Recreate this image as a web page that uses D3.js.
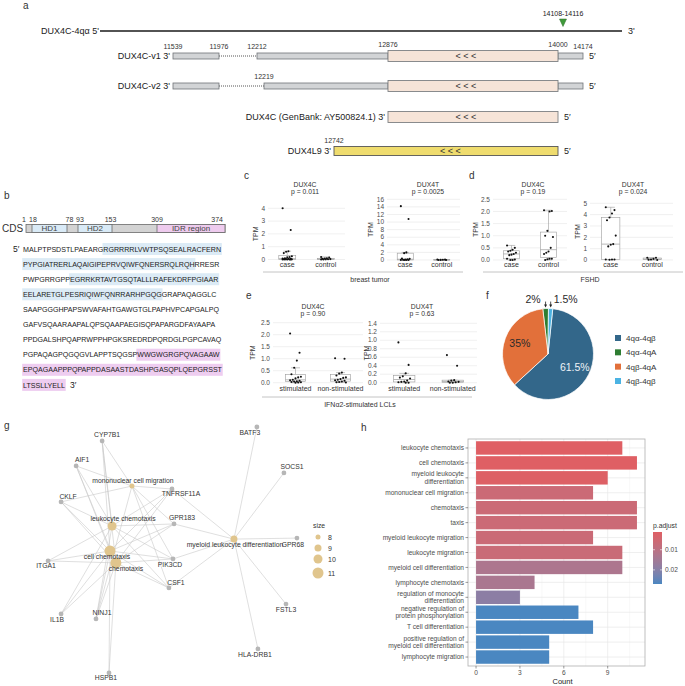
<!DOCTYPE html>
<html><head><meta charset="utf-8">
<script src="https://cdn.jsdelivr.net/npm/d3@7/dist/d3.min.js"></script>
<style>
html,body{margin:0;padding:0;background:#fff;}
svg text{font-family:"Liberation Sans",Arial,Helvetica,sans-serif;}
</style></head><body>
<svg id="fig" width="685" height="686" viewBox="0 0 685 686"></svg>
<script>
// ================= DATA =================
// ---- panel a : transcript structures (genomic coordinates)
const geneBreaks = [11539, 11976, 12212, 12219, 12742, 12876, 14000, 14112, 14174];
const transcripts = ["DUX4C-v1", "DUX4C-v2", "DUX4C (GenBank: AY500824.1)", "DUX4L9"];
const utrExons = [
  [[11539, 11976], [12212, 12876], [14000, 14174]],
  [[11539, 11976], [12219, 12876], [14000, 14174]],
  [], []
];
const introns = [[11976, 12212], [11976, 12219], null, null];
const cdsRegions = [[12876, 14000], [12876, 14000], [12876, 14000], [12742, 14000]];
const cdsTypes = ["DUX4C", "DUX4C", "DUX4C", "DUX4L9"];
const posLabels = [[11539, 11976, 12212, 12876, 14000, 14174], [12219], [], [12742]];
const markerSite = [14108, 14116];
const locusName = "DUX4C-4qα";

// ---- panel b : protein
const cdsBreaks = [1, 18, 78, 93, 153, 309, 374];
const domainNames = ["HD1", "HD2", "IDR region"];
const domainStarts = [18, 93, 309];
const domainEnds = [78, 153, 374];
const domainTypes = ["hd", "hd", "idr"];
const seqLines = [
  "MALPTPSDSTLPAEARGRGRRRRLVWTPSQSEALRACFERN",
  "PYPGIATRERLAQAIGIPEPRVQIWFQNERSRQLRQHRRESR",
  "PWPGRRGPPEGRRKRTAVTGSQTALLLRAFEKDRFPGIAAR",
  "EELARETGLPESRIQIWFQNRRARHPGQGGRAPAQAGGLC",
  "SAAPGGGHPAPSWVAFAHTGAWGTGLPAPHVPCAPGALPQ",
  "GAFVSQAARAAPALQPSQAAPAEGISQPAPARGDFAYAAPA",
  "PPDGALSHPQAPRWPPHPGKSREDRDPQRDGLPGPCAVAQ",
  "PGPAQAGPQGQGVLAPPTSQGSPWWGWGRGPQVAGAAW",
  "EPQAGAAPPPQPAPPDASAASTDASHPGASQPLQEPGRSST",
  "LTSSLLYELL"
];

// ---- panels c, d, e : TPM box plots
const boxTitles = ["DUX4C", "DUX4T", "DUX4C", "DUX4T", "DUX4C", "DUX4T"];
const boxPvalues = ["p = 0.011", "p = 0.0025", "p = 0.19", "p = 0.024", "p = 0.90", "p = 0.63"];
const boxGroups = [["case", "control"], ["case", "control"], ["case", "control"], ["case", "control"],
                   ["stimulated", "non-stimulated"], ["stimulated", "non-stimulated"]];
const brcaDux4cCase = [4.0, 2.3, 0.65, 0.6, 0.5, 0.25, 0.2, 0.18, 0.1, 0.08, 0.05, 0.05, 0.03, 0.02, 0.01, 0, 0, 0, 0, 0];
const brcaDux4cCtrl = [0.2, 0.15, 0.1, 0.08, 0.05, 0.03, 0.02, 0.01, 0, 0];
const brcaDux4tCase = [14.2, 10.8, 2.0, 1.8, 0.4, 0.3, 0.2, 0.1, 0.05, 0.02, 0, 0, 0];
const brcaDux4tCtrl = [0.15, 0.1, 0.05, 0.02, 0, 0];
const fshdDux4cCase = [0.6, 0.5, 0.42, 0.38, 0.35, 0.3, 0.25, 0.22, 0.2, 0.05, 0.02, 0, 0];
const fshdDux4cCtrl = [2.05, 2.02, 2.0, 1.2, 1.0, 0.95, 0.5, 0.35, 0.3, 0.25, 0.05, 0.05, 0.03, 0];
const fshdDux4tCase = [4.65, 4.4, 4.1, 3.75, 3.5, 2.15, 1.4, 1.35, 1.2, 0.05, 0.05, 0.05, 0.02];
const fshdDux4tCtrl = [0.2, 0.2, 0.1, 0.05, 0.03, 0];
const lclDux4cStim = [2.05, 1.25, 0.92, 0.62, 0.35, 0.25, 0.22, 0.18, 0.12, 0.1, 0.08, 0.06, 0.05, 0.03, 0.02, 0.01, 0];
const lclDux4cNon = [1.02, 1.0, 0.42, 0.38, 0.3, 0.22, 0.2, 0.15, 0.12, 0.1, 0.08, 0.05, 0.03, 0.02, 0.01];
const lclDux4tStim = [0.95, 0.42, 0.22, 0.15, 0.12, 0.1, 0.05, 0.03, 0.02, 0.01, 0, 0];
const lclDux4tNon = [0.65, 0.4, 0.06, 0.05, 0.03, 0.02, 0.01, 0, 0];
const boxValues = [[brcaDux4cCase, brcaDux4cCtrl], [brcaDux4tCase, brcaDux4tCtrl],
                   [fshdDux4cCase, fshdDux4cCtrl], [fshdDux4tCase, fshdDux4tCtrl],
                   [lclDux4cStim, lclDux4cNon], [lclDux4tStim, lclDux4tNon]];
const boxTicks = [[0, 1, 2, 3, 4], [0, 2, 4, 6, 8, 10, 12, 14, 16], [0, 0.5, 1, 1.5, 2, 2.5],
                  [0, 1, 2, 3, 4, 5], [0, 0.5, 1, 1.5, 2, 2.5], [0, 0.2, 0.4, 0.6, 0.8, 1, 1.2, 1.4]];
const boxTickFormats = ["d", "d", ".1f", "d", ".1f", ".1f"];
const cohortLabels = ["breast tumor", "FSHD", "IFNα2-stimulated LCLs"];

// ---- panel f : pie
const pieLabels = ["4qα-4qβ", "4qα-4qA", "4qβ-4qA", "4qβ-4qβ"];
const pieValues = [61.5, 2, 35, 1.5];

// ---- panel g : gene-concept network
const termNames = ["leukocyte chemotaxis", "cell chemotaxis", "chemotaxis", "mononuclear cell migration", "myeloid leukocyte differentiation"];
const termSizes = [10, 11, 11, 8, 9];
const geneNames = ["CYP7B1", "AIF1", "CKLF", "TNFRSF11A", "GPR183", "ITGA1", "PIK3CD", "CSF1", "IL1B", "NINJ1", "HSPB1", "BATF3", "SOCS1", "GPR68", "FSTL3", "HLA-DRB1"];
const termGenes = [
  ["CYP7B1", "AIF1", "CKLF", "TNFRSF11A", "GPR183", "ITGA1", "PIK3CD", "CSF1", "IL1B", "NINJ1"],
  ["CYP7B1", "AIF1", "CKLF", "TNFRSF11A", "GPR183", "ITGA1", "PIK3CD", "CSF1", "IL1B", "NINJ1", "HSPB1"],
  ["CYP7B1", "AIF1", "CKLF", "TNFRSF11A", "GPR183", "ITGA1", "PIK3CD", "CSF1", "IL1B", "NINJ1", "HSPB1"],
  ["CYP7B1", "AIF1", "CKLF", "TNFRSF11A", "GPR183", "PIK3CD", "CSF1", "NINJ1"],
  ["TNFRSF11A", "GPR183", "PIK3CD", "CSF1", "BATF3", "SOCS1", "GPR68", "FSTL3", "HLA-DRB1"]
];
// layout coordinates (graph layout space, 0-100)
const termLayoutX = [26.3, 25.5, 27.8, 34.1, 74.1];
const termLayoutY = [39.9, 50.0, 54.8, 23.8, 45.2];
const geneLayoutX = [22.4, 12.2, 6.3, 49.8, 50.6, 1.2, 50.2, 48.6, 6.3, 20.0, 25.1, 83.1, 93.7, 98.8, 94.5, 83.5];
const geneLayoutY = [5.6, 15.7, 30.2, 25.0, 39.1, 54.0, 53.2, 64.9, 75.4, 77.4, 99.2, 0, 18.5, 44.8, 71.4, 89.5];
const sizeLegend = [8, 9, 10, 11];

// ---- panel h : GO enrichment bar plot
const goTerms = ["leukocyte chemotaxis", "cell chemotaxis", "myeloid leukocyte\ndifferentiation", "mononuclear cell migration",
  "chemotaxis", "taxis", "myeloid leukocyte migration", "leukocyte migration", "myeloid cell differentiation",
  "lymphocyte chemotaxis", "regulation of monocyte\ndifferentiation", "negative regulation of\nprotein phosphorylation",
  "T cell differentiation", "positive regulation of\nmyeloid cell differentiation", "lymphocyte migration"];
const goCounts = [10, 11, 9, 8, 11, 11, 8, 10, 10, 4, 3, 7, 8, 5, 5];
const goPadj = [0.0012, 0.0012, 0.0016, 0.0062, 0.0062, 0.0062, 0.0064, 0.0066, 0.0130, 0.0135, 0.0190, 0.0270, 0.0270, 0.0270, 0.0270];
const countTicks = [0, 3, 6, 9];
const padjTicks = [0.01, 0.02];

// ================= DRAWING =================
const svg = d3.select("#fig");
svg.append("rect").attr("width", 685).attr("height", 686).attr("fill", "#fff");

function txt(g, x, y, s, size, opts = {}) {
  const t = g.append("text").attr("x", x).attr("y", y).text(s)
    .attr("font-size", size).attr("fill", opts.fill || "#222")
    .attr("text-anchor", opts.anchor || "start");
  if (opts.weight) t.attr("font-weight", opts.weight);
  return t;
}

// panel letters
const letters = [["a", 23, 9], ["b", 4, 199], ["c", 244, 179], ["d", 469, 179], ["e", 246, 299], ["f", 486, 299], ["g", 4, 429], ["h", 361, 431]];
letters.forEach(([l, x, y]) => txt(svg, x, y, l, 10, { fill: "#333" }));

// ---------- panel a ----------
(function () {
  const g = svg.append("g");
  const gx = d3.scaleLinear().domain(geneBreaks).range([173, 219, 257, 264, 334, 388, 558, 563, 583]);
  const rowY = d3.scaleOrdinal().domain(transcripts).range([56, 86, 117, 151]);
  const fs = 9;
  const locusY = 31;
  g.append("line").attr("x1", 100).attr("x2", 622).attr("y1", locusY).attr("y2", locusY)
    .attr("stroke", "#1a1a1a").attr("stroke-width", 1.6);
  txt(g, 99, locusY + 3, locusName + "  5'", fs, { anchor: "end" });
  txt(g, 628, locusY + 3, "3'", fs);
  const mx = gx((markerSite[0] + markerSite[1]) / 2);
  g.append("path").attr("d", `M${mx - 3.5},${19} L${mx + 3.5},${19} L${mx},${26.5} Z`)
    .attr("fill", "#3f9a3a").attr("stroke", "#2a6e27").attr("stroke-width", 0.5);
  txt(g, mx, 15.5, markerSite[0] + "-" + markerSite[1], 7, { anchor: "middle" });

  const hGray = 3, hCds = 5.5, hL9 = 4.5;
  transcripts.forEach((name, i) => {
    const y = rowY(name);
    if (introns[i]) {
      g.append("line").attr("x1", gx(introns[i][0])).attr("x2", gx(introns[i][1]))
        .attr("y1", y).attr("y2", y).attr("stroke", "#444").attr("stroke-width", 0.9).attr("stroke-dasharray", "1,1");
    }
    utrExons[i].forEach(e => {
      g.append("rect").attr("x", gx(e[0])).attr("y", y - hGray).attr("width", gx(e[1]) - gx(e[0])).attr("height", 2 * hGray)
        .attr("fill", "#d2d4d6").attr("stroke", "#6f7378").attr("stroke-width", 0.8);
    });
    const c = cdsRegions[i];
    const hh = cdsTypes[i] === "DUX4L9" ? hL9 : hCds;
    g.append("rect").attr("x", gx(c[0])).attr("y", y - hh).attr("width", gx(c[1]) - gx(c[0])).attr("height", 2 * hh)
      .attr("fill", cdsTypes[i] === "DUX4L9" ? "#efdc6e" : "#f6e4d8")
      .attr("stroke", cdsTypes[i] === "DUX4L9" ? "#555" : "#7d8084").attr("stroke-width", 0.9);
    const arrowX = cdsTypes[i] === "DUX4L9" ? gx(c[0]) + (gx(c[1]) - gx(c[0])) * 0.52 : (gx(c[0]) + gx(c[1])) / 2 - 7;
    txt(g, arrowX, y + 3.2, "< < <", 9, { anchor: "middle", fill: "#333" });
    const allStarts = [c[0]].concat(utrExons[i].map(e => e[0]));
    const allEnds = [c[1]].concat(utrExons[i].map(e => e[1]));
    const s = d3.min(allStarts), e = d3.max(allEnds);
    txt(g, gx(s) - 3, y + 3, name + " 3'", fs, { anchor: "end" });
    txt(g, gx(e) + 6, y + 3, "5′", fs);
    posLabels[i].forEach(p => {
      const inCds = p >= c[0] && p <= c[1];
      const top = inCds ? y - hh : y - hGray;
      txt(g, gx(p), top - 3.6, String(p), 7, { anchor: "middle", fill: "#333" });
    });
  });
})();

// ---------- panel b ----------
(function () {
  const g = svg.append("g");
  const bx = d3.scaleLinear().domain(cdsBreaks).range([26, 32, 67, 78, 112, 157, 225]);
  const y0 = 224.5, h = 8;
  g.append("rect").attr("x", bx(1)).attr("y", y0).attr("width", bx(374) - bx(1)).attr("height", h)
    .attr("fill", "#d3d3d3").attr("stroke", "#6a6a6a").attr("stroke-width", 0.8);
  domainNames.forEach((n, i) => {
    g.append("rect").attr("x", bx(domainStarts[i])).attr("y", y0).attr("width", bx(domainEnds[i]) - bx(domainStarts[i])).attr("height", h)
      .attr("fill", domainTypes[i] === "hd" ? "#d9eaf6" : "#eecbee").attr("stroke", "#6a6a6a").attr("stroke-width", 0.8);
    txt(g, (bx(domainStarts[i]) + bx(domainEnds[i])) / 2, y0 + 6.8, n, 8, { anchor: "middle", fill: "#444" });
  });
  const labelShift = [-2, 1, 2.5, 2, -1.5, 0, 0];
  cdsBreaks.forEach((b, i) => {
    const last = i === cdsBreaks.length - 1;
    txt(g, last ? bx(b) - 2 : bx(b) + labelShift[i], y0 - 3, String(b), 7, { anchor: last ? "end" : "middle", fill: "#333" });
  });
  txt(g, 2, y0 + 7.5, "CDS", 10, { fill: "#333" });

  // sequence with highlighted domains
  const fs = 7.1, x0 = 23, rowStep = 15.1, firstY = 249;
  const seqY = d3.scaleLinear().domain([0, 1]).range([firstY, firstY + rowStep]);
  let resStart = 1;
  const hlG = g.append("g"), txG = g.append("g");
  seqLines.forEach((line, li) => {
    const yc = seqY(li);
    const runs = [];
    for (let k = 0; k < line.length; k++) {
      const r = resStart + k;
      let t = "";
      domainStarts.forEach((s, di) => { if (r >= s && r <= domainEnds[di]) t = domainTypes[di]; });
      if (runs.length && runs[runs.length - 1].t === t) runs[runs.length - 1].s += line[k];
      else runs.push({ t, s: line[k] });
    }
    let x = x0;
    runs.forEach(run => {
      const t = txt(txG, x, yc + 2.6, run.s, fs, { fill: "#222" });
      const w = t.node().getComputedTextLength();
      if (run.t) {
        hlG.append("rect").attr("x", x - 0.8).attr("y", yc - 6).attr("width", w + 1.6).attr("height", 12)
          .attr("fill", run.t === "hd" ? "#dcebf6" : "#eecdf0");
      }
      x += w;
    });
    if (li === 0) txt(g, 13, yc + 3, "5′", 8.5, { fill: "#222" });
    if (li === seqLines.length - 1) txt(g, x + 5, yc + 3, "3′", 8.5, { fill: "#222" });
    resStart += line.length;
  });
})();

// ---------- panels c, d, e ----------
const boxLayout = [
  { x0: 268, x1: 345, y0: 259.5, yt: 208.3, tx: 305, tpm: 258, ty: 186.5, cy: 267 },
  { x0: 387, x1: 460, y0: 260, yt: 199.3, tx: 428, tpm: 373, ty: 186.5, cy: 267 },
  { x0: 493, x1: 567, y0: 260, yt: 199.3, tx: 533, tpm: 478, ty: 186.5, cy: 267 },
  { x0: 590, x1: 673, y0: 260, yt: 203.3, tx: 633, tpm: 580, ty: 186.5, cy: 267 },
  { x0: 273, x1: 363, y0: 382.7, yt: 322.7, tx: 313, tpm: 255, ty: 309, cy: 391 },
  { x0: 380, x1: 477, y0: 382.7, yt: 323.3, tx: 422, tpm: 369, ty: 309, cy: 391 }
];
boxTitles.forEach((title, i) => {
  const L = boxLayout[i];
  const g = svg.append("g");
  const ticks = boxTicks[i];
  const y = d3.scaleLinear().domain([0, d3.max(ticks)]).range([L.y0, L.yt]);
  const x = d3.scalePoint().domain(boxGroups[i]).range([L.x0, L.x1]).padding(0.5);
  const step = x.step();
  const fmt = d3.format(boxTickFormats[i]);
  ticks.forEach(t => {
    g.append("line").attr("x1", L.x0).attr("x2", L.x1).attr("y1", y(t)).attr("y2", y(t))
      .attr("stroke", "#e6e6e6").attr("stroke-width", 0.6);
    txt(g, L.x0 - 3, y(t) + 2.2, fmt(t), 6.5, { anchor: "end", fill: "#4d4d4d" });
  });
  txt(g, L.tx, L.ty, title, 6.8, { anchor: "middle", fill: "#333" });
  txt(g, L.tx, L.ty + 7, boxPvalues[i], 6.8, { anchor: "middle", fill: "#333" });
  g.append("text").attr("transform", `translate(${L.tpm},${(L.y0 + L.yt) / 2}) rotate(-90)`)
    .attr("text-anchor", "middle").attr("font-size", 7).attr("fill", "#333").text("TPM");
  boxGroups[i].forEach((grp, k) => {
    const vals = boxValues[i][k].slice().sort(d3.ascending);
    const q1 = d3.quantile(vals, 0.25), med = d3.quantile(vals, 0.5), q3 = d3.quantile(vals, 0.75);
    const iqr = q3 - q1;
    const lo = d3.min(vals.filter(v => v >= q1 - 1.5 * iqr));
    const hi = d3.max(vals.filter(v => v <= q3 + 1.5 * iqr));
    const cx = x(grp), bw = step * 0.22, cw = step * 0.1;
    const st = "#9c9c9c";
    g.append("line").attr("x1", cx).attr("x2", cx).attr("y1", y(q3)).attr("y2", y(hi)).attr("stroke", st).attr("stroke-width", 0.6);
    g.append("line").attr("x1", cx).attr("x2", cx).attr("y1", y(q1)).attr("y2", y(lo)).attr("stroke", st).attr("stroke-width", 0.6);
    g.append("line").attr("x1", cx - cw).attr("x2", cx + cw).attr("y1", y(hi)).attr("y2", y(hi)).attr("stroke", st).attr("stroke-width", 0.6);
    g.append("line").attr("x1", cx - cw).attr("x2", cx + cw).attr("y1", y(lo)).attr("y2", y(lo)).attr("stroke", st).attr("stroke-width", 0.6);
    g.append("rect").attr("x", cx - bw).attr("y", y(q3)).attr("width", 2 * bw).attr("height", Math.max(0.5, y(q1) - y(q3)))
      .attr("fill", "#fff").attr("stroke", st).attr("stroke-width", 0.6);
    g.append("line").attr("x1", cx - bw).attr("x2", cx + bw).attr("y1", y(med)).attr("y2", y(med)).attr("stroke", st).attr("stroke-width", 0.7);
    // deterministic jitter pattern
    boxValues[i][k].forEach((v, j) => {
      const off = (((j * 7) % 9) - 4) / 4 * step * 0.12;
      g.append("circle").attr("cx", cx + off).attr("cy", y(v)).attr("r", 1.05).attr("fill", "#111");
    });
    txt(g, cx, L.cy, grp, 7, { anchor: "middle", fill: "#333" });
  });
});
const cohortLayout = [{ x1: 263, x2: 463, y: 272, tx: 370 }, { x1: 483, x2: 683, y: 272, tx: 590 }, { x1: 262, x2: 472, y: 397, tx: 360 }];
cohortLabels.forEach((c, i) => {
  const L = cohortLayout[i];
  svg.append("line").attr("x1", L.x1).attr("x2", L.x2).attr("y1", L.y).attr("y2", L.y).attr("stroke", "#b5b5b5").attr("stroke-width", 0.8);
  txt(svg, L.tx, L.y + 9.5, c, 7, { anchor: "middle", fill: "#333" });
});

// ---------- panel f ----------
(function () {
  const g = svg.append("g");
  const cx = 548, cy = 354, r = 45.5;
  const color = d3.scaleOrdinal().domain(pieLabels).range(["#33678a", "#2e7d32", "#e2703a", "#4bb3e3"]);
  const a0 = 6 * Math.PI / 180;
  const pie = d3.pie().value(d => d.v).startAngle(a0).endAngle(a0 + 2 * Math.PI);
  const data = pieLabels.map((l, i) => ({ l, v: pieValues[i] }));
  const arcs = pie(data);
  const arc = d3.arc().innerRadius(0).outerRadius(r);
  const gp = g.append("g").attr("transform", `translate(${cx},${cy})`);
  gp.selectAll("path").data(arcs).join("path").attr("d", arc).attr("fill", d => color(d.data.l))
    .attr("stroke", "#fff").attr("stroke-width", 0.7);
  const lab = d3.arc().innerRadius(r * 0.66).outerRadius(r * 0.66);
  const fmt = v => v + "%";
  arcs.forEach(a => {
    if (a.data.v > 10) {
      const [lx, ly] = lab.centroid(a);
      txt(gp, lx, ly + 3.8, fmt(a.data.v), 10.5, { anchor: "middle", fill: a.data.v > 50 ? "#eef3f7" : "#2a2a2a" });
    }
  });
  const small = arcs.filter(a => a.data.v < 10);
  small.forEach((a, k) => {
    const mid = (a.startAngle + a.endAngle) / 2;
    const ex = Math.sin(mid) * (r + 1), ey = -Math.cos(mid) * (r + 1);
    const left = k === 0;
    gp.append("line").attr("x1", ex).attr("y1", ey - 6).attr("x2", ex).attr("y2", ey - 2).attr("stroke", "#222").attr("stroke-width", 0.8);
    gp.append("path").attr("d", `M${ex - 1.5},${ey - 3} L${ex + 1.5},${ey - 3} L${ex},${ey} Z`).attr("fill", "#222");
    txt(gp, left ? ex - 5 : ex + 3, -r - 5.5, fmt(a.data.v), 10.5, { anchor: left ? "end" : "start", fill: "#2a2a2a" });
  });
  const ly = d3.scalePoint().domain(pieLabels).range([338, 381]);
  pieLabels.forEach(l => {
    g.append("rect").attr("x", 615).attr("y", ly(l) - 3).attr("width", 6).attr("height", 6).attr("fill", color(l));
    txt(g, 626, ly(l) + 3, l, 8, { fill: "#333" });
  });
})();

// ---------- panel g ----------
(function () {
  const g = svg.append("g");
  const nx = d3.scaleLinear().domain([0, 100]).range([45, 300]);
  const ny = d3.scaleLinear().domain([0, 100]).range([427, 675]);
  const rS = d3.scaleLinear().domain([8, 11]).range([2.5, 5.5]);
  const gpos = {};
  geneNames.forEach((n, i) => gpos[n] = [nx(geneLayoutX[i]), ny(geneLayoutY[i])]);
  const tpos = termNames.map((n, i) => [nx(termLayoutX[i]), ny(termLayoutY[i])]);
  const eg = g.append("g");
  termNames.forEach((t, i) => {
    termGenes[i].forEach(gn => {
      eg.append("line").attr("x1", tpos[i][0]).attr("y1", tpos[i][1]).attr("x2", gpos[gn][0]).attr("y2", gpos[gn][1])
        .attr("stroke", "#c9c9c9").attr("stroke-width", 0.6);
    });
  });
  geneNames.forEach(n => g.append("circle").attr("cx", gpos[n][0]).attr("cy", gpos[n][1]).attr("r", 2.4).attr("fill", "#b6b6b6"));
  termNames.forEach((t, i) => g.append("circle").attr("cx", tpos[i][0]).attr("cy", tpos[i][1]).attr("r", rS(termSizes[i])).attr("fill", "#e0c58d"));
  const nudge = {
    "CYP7B1": [5, -6], "AIF1": [6, -6], "CKLF": [7, -5], "mononuclear cell migration": [1, -5], "TNFRSF11A": [9, 5],
    "leukocyte chemotaxis": [11, -7], "GPR183": [8, -6], "myeloid leukocyte differentiation": [1, 6], "GPR68": [-4, 6],
    "cell chemotaxis": [-3, 6], "chemotaxis": [10, 6], "ITGA1": [-2, 5], "PIK3CD": [-3, 6], "CSF1": [7, -5],
    "IL1B": [-4, 6], "NINJ1": [6, -6], "HSPB1": [-3, 5], "BATF3": [-7, 6], "SOCS1": [8, -6], "FSTL3": [0, 6], "HLA-DRB1": [-3, 6]
  };
  geneNames.forEach(n => txt(g, gpos[n][0] + nudge[n][0], gpos[n][1] + nudge[n][1] + 2.4, n, 6.8, { anchor: "middle", fill: "#333" }));
  termNames.forEach((n, i) => txt(g, tpos[i][0] + nudge[n][0], tpos[i][1] + nudge[n][1] + 2.4, n, 6.8, { anchor: "middle", fill: "#333" }));
  txt(g, 313, 528, "size", 6.8, { fill: "#333" });
  const ly = d3.scaleOrdinal().domain(sizeLegend).range([537, 548, 559, 573]);
  sizeLegend.forEach(s => {
    g.append("circle").attr("cx", 318).attr("cy", ly(s)).attr("r", rS(s)).attr("fill", "#e0c58d");
    txt(g, 328, ly(s) + 2.5, String(s), 7, { fill: "#333" });
  });
})();

// ---------- panel h ----------
(function () {
  const g = svg.append("g");
  const px0 = 468, px1 = 645, py0 = 439, py1 = 666;
  const x = d3.scaleLinear().domain([-0.55, 11.55]).range([px0, px1]);
  const y = d3.scalePoint().domain(goTerms).range([py0, py1]).padding(0.6);
  const step = y.step();
  const pExt = d3.extent(goPadj);
  const col = d3.scaleLinear().domain(pExt).range(["#df5f64", "#4a87c1"]).interpolate(d3.interpolateLab);
  [1.5, 4.5, 7.5, 10.5].forEach(v => g.append("line").attr("x1", x(v)).attr("x2", x(v)).attr("y1", py0).attr("y2", py1).attr("stroke", "#f3f3f3").attr("stroke-width", 0.5));
  countTicks.forEach(v => g.append("line").attr("x1", x(v)).attr("x2", x(v)).attr("y1", py0).attr("y2", py1).attr("stroke", "#e8e8e8").attr("stroke-width", 0.7));
  goTerms.forEach(t => g.append("line").attr("x1", px0).attr("x2", px1).attr("y1", y(t)).attr("y2", y(t)).attr("stroke", "#e8e8e8").attr("stroke-width", 0.7));
  goTerms.forEach((t, i) => {
    g.append("rect").attr("x", x(0)).attr("y", y(t) - step * 0.45).attr("width", x(goCounts[i]) - x(0)).attr("height", step * 0.9)
      .attr("fill", col(goPadj[i]));
  });
  g.append("rect").attr("x", px0).attr("y", py0).attr("width", px1 - px0).attr("height", py1 - py0)
    .attr("fill", "none").attr("stroke", "#b0b0b0").attr("stroke-width", 0.8);
  goTerms.forEach(t => {
    g.append("line").attr("x1", px0 - 2.5).attr("x2", px0).attr("y1", y(t)).attr("y2", y(t)).attr("stroke", "#555").attr("stroke-width", 0.6);
    const parts = t.split("\n");
    parts.forEach((p, k) => {
      const dy = (k - (parts.length - 1) / 2) * 7.6;
      txt(g, px0 - 4, y(t) + dy + 2.3, p, 6.6, { anchor: "end", fill: "#4d4d4d" });
    });
  });
  countTicks.forEach(v => {
    g.append("line").attr("x1", x(v)).attr("x2", x(v)).attr("y1", py1).attr("y2", py1 + 2.5).attr("stroke", "#555").attr("stroke-width", 0.6);
    txt(g, x(v), py1 + 9, String(v), 6.6, { anchor: "middle", fill: "#4d4d4d" });
  });
  txt(g, (px0 + px1) / 2 + 6, 684, "Count", 7.5, { anchor: "middle", fill: "#222" });
  const cbY = d3.scaleLinear().domain(pExt).range([532, 584]);
  const grad = svg.append("defs").append("linearGradient").attr("id", "pgrad").attr("x1", 0).attr("x2", 0).attr("y1", 0).attr("y2", 1);
  d3.range(0, 1.0001, 0.1).forEach(f => grad.append("stop").attr("offset", f).attr("stop-color", col(pExt[0] + f * (pExt[1] - pExt[0]))));
  g.append("rect").attr("x", 653).attr("y", cbY(pExt[0])).attr("width", 9).attr("height", cbY(pExt[1]) - cbY(pExt[0])).attr("fill", "url(#pgrad)");
  padjTicks.forEach(p => {
    g.append("line").attr("x1", 653).attr("x2", 655).attr("y1", cbY(p)).attr("y2", cbY(p)).attr("stroke", "#fff").attr("stroke-width", 0.6);
    g.append("line").attr("x1", 660).attr("x2", 662).attr("y1", cbY(p)).attr("y2", cbY(p)).attr("stroke", "#fff").attr("stroke-width", 0.6);
    txt(g, 665, cbY(p) + 2.3, String(p), 6.6, { fill: "#4d4d4d" });
  });
  txt(g, 653, 528, "p.adjust", 6.8, { fill: "#333" });
})();
</script>
</body></html>
